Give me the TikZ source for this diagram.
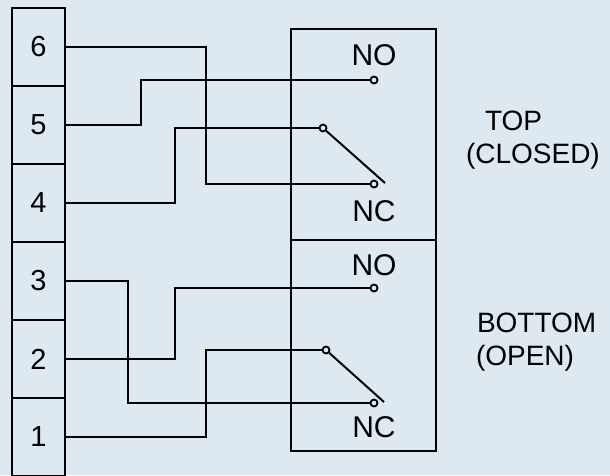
\documentclass[tikz,border=0pt]{standalone}
\usepackage{fontspec}
\setmainfont{Liberation Sans}
\definecolor{bg}{RGB}{221,232,241}
\begin{document}
\begin{tikzpicture}[x=1pt,y=-1pt,line width=2pt,
  cell/.style={draw,minimum width=53pt,minimum height=78pt,inner sep=0pt,
    font=\fontsize{29}{32}\selectfont},
  relay/.style={draw,minimum width=145pt,minimum height=211pt,inner sep=0pt},
  contact/.style={draw,circle,minimum size=7pt,inner sep=0pt,line width=1.8pt},
  lbl/.style={inner sep=0pt,font=\fontsize{30}{32}\selectfont},
  side/.style={inner sep=0pt,anchor=base west,font=\fontsize{28}{32}\selectfont},
  wire/.style={line width=2pt}]
\fill[bg] (0,0) rectangle (610,475);
\useasboundingbox (0,0) rectangle (610,475);
% terminal block
\node[cell] (t6) at (38.5,47) {6};
\node[cell] (t5) at (38.5,125) {5};
\node[cell] (t4) at (38.5,203) {4};
\node[cell] (t3) at (38.5,281) {3};
\node[cell] (t2) at (38.5,359) {2};
\node[cell] (t1) at (38.5,437) {1};
% relays
\node[relay] (r1) at (363.5,134.5) {};
\node[relay] (r2) at (363.5,345.5) {};
\node[lbl] (lno1) at (374,55) {NO};
\node[lbl] (lnc1) at (374,211) {NC};
\node[lbl] (lno2) at (374,265) {NO};
\node[lbl] (lnc2) at (374,427) {NC};
% contacts
\node[contact] (no1) at (374,80) {};
\node[contact] (nc1) at (374,184) {};
\node[contact] (com1) at (323,128) {};
\node[contact] (no2) at (374,288) {};
\node[contact] (nc2) at (374,403) {};
\node[contact] (com2) at (326,350) {};
% bend points
\coordinate (b6) at (206,184);
\coordinate (b5) at (141,80);
\coordinate (b4) at (175,128);
\coordinate (b3) at (128,403);
\coordinate (b2) at (175,288);
\coordinate (b1) at (206,350);
\coordinate (a1) at (385,183);
\coordinate (a2) at (384,402);
% wires
\draw[wire] (t6.east) -| (b6) -- (nc1);
\draw[wire] (t5.east) -| (b5) -- (no1);
\draw[wire] (t4.east) -| (b4) -- (com1);
\draw[wire] (t3.east) -| (b3) -- (nc2);
\draw[wire] (t2.east) -| (b2) -- (no2);
\draw[wire] (t1.east) -| (b1) -- (com2);
\draw[wire] (com1) -- (a1);
\draw[wire] (com2) -- (a2);
% side labels
\node[side] (top) at (484,130) {TOP};
\node[side] (closed) at (465,163) {(CLOSED)};
\node[side] (bottom) at (476,332) {BOTTOM};
\node[side] (open) at (475,365) {(OPEN)};
\end{tikzpicture}
\end{document}
